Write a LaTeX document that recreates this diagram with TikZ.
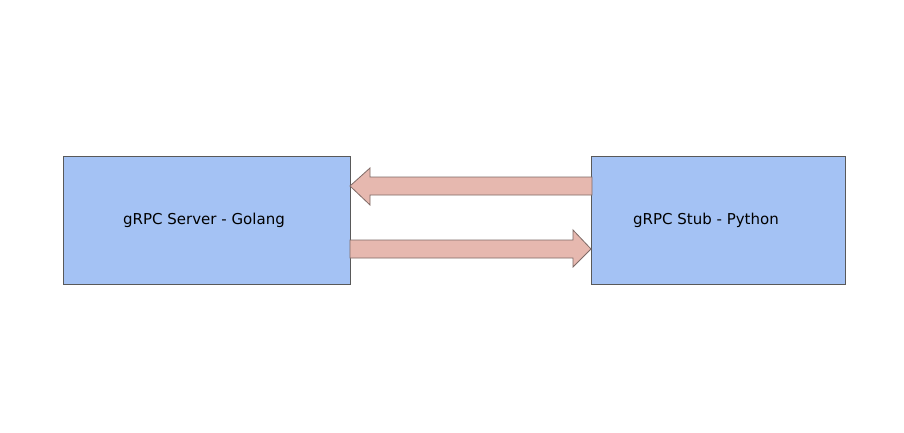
\documentclass[tikz,border=0pt]{standalone}
\usepackage{fontspec}
\setmainfont{DejaVu Sans}
\definecolor{boxfill}{HTML}{A4C2F4}
\definecolor{boxline}{HTML}{595959}
\definecolor{arrfill}{HTML}{E6B8AF}
\definecolor{arrline}{HTML}{7F6A66}
\begin{document}
\begin{tikzpicture}[x=1pt,y=-1pt,
  box/.style={draw=boxline,fill=boxfill,line width=0.8pt},
  fatarrow/.style={draw=arrline,fill=arrfill,line width=0.8pt}]
\useasboundingbox (0,0) rectangle (904,433);
\fill[white] (0,0) rectangle (904,433);
\draw[box] (63,156) rectangle (350,284);
\draw[box] (591,156) rectangle (845,284);
\node[font=\fontsize{15}{18}\selectfont] (srv) at (204,220) {gRPC Server - Golang};
\node[font=\fontsize{15}{18}\selectfont] (stub) at (706,220) {gRPC Stub - Python};
\draw[fatarrow] (592,177) -- (370,177) -- (370,168) -- (350,186) -- (370,205) -- (370,195) -- (592,195) -- cycle;
\draw[fatarrow] (350,240) -- (573,240) -- (573,230) -- (591,249) -- (573,267) -- (573,258) -- (350,258) -- cycle;
\end{tikzpicture}
\end{document}
